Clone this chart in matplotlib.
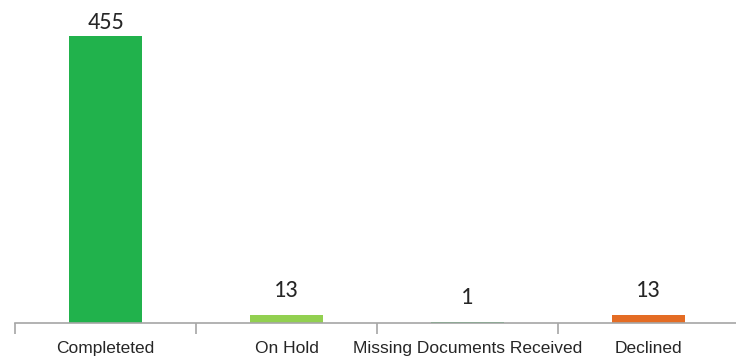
import matplotlib
matplotlib.use("Agg")
import matplotlib.pyplot as plt
import numpy as np

categories = ["Completeted", "On Hold", "Missing Documents Received", "Declined"]
counts = [455, 13, 1, 13]
colors = ["#21b24c", "#92d050", "#21b24c", "#e46c24"]

LABEL_FONT = ["Liberation Sans Narrow", "Liberation Sans"]
VALUE_FONT = ["Carlito", "Lato", "DejaVu Sans"]

fig = plt.figure(figsize=(7.36, 3.6), dpi=100)
ax = fig.add_axes([15 / 736, 1 - 323 / 360, 724 / 736, 315.5 / 360])

x = np.arange(len(categories))
bars = ax.bar(x, counts, width=0.4, color=colors, zorder=2)

ax.set_xlim(-0.5, len(categories) - 0.5)
ax.set_ylim(0, 500)

# value labels sit above each bar, but never above the plot area
for rect, v in zip(bars, counts):
    top = rect.get_height()
    y = min(top + 39, 477)
    ax.text(rect.get_x() + rect.get_width() / 2, y, str(v),
            ha="center", va="center", fontsize=17.5, color="#262626",
            family=VALUE_FONT)

for side in ["top", "right", "left"]:
    ax.spines[side].set_visible(False)
ax.spines["bottom"].set_color("#a6a6a6")
ax.spines["bottom"].set_linewidth(1.2)
ax.set_yticks([])

ax.set_xticks(np.arange(len(categories) + 1) - 0.5)
ax.set_xticklabels([])
ax.set_xticks(x, minor=True)
ax.set_xticklabels(categories, minor=True, family=LABEL_FONT, fontsize=12.5,
                   color="#262626")
ax.tick_params(axis="x", which="major", length=8, width=1.2, color="#a6a6a6")
ax.tick_params(axis="x", which="minor", length=0, pad=13)

fig.savefig("out.png", dpi=100)
